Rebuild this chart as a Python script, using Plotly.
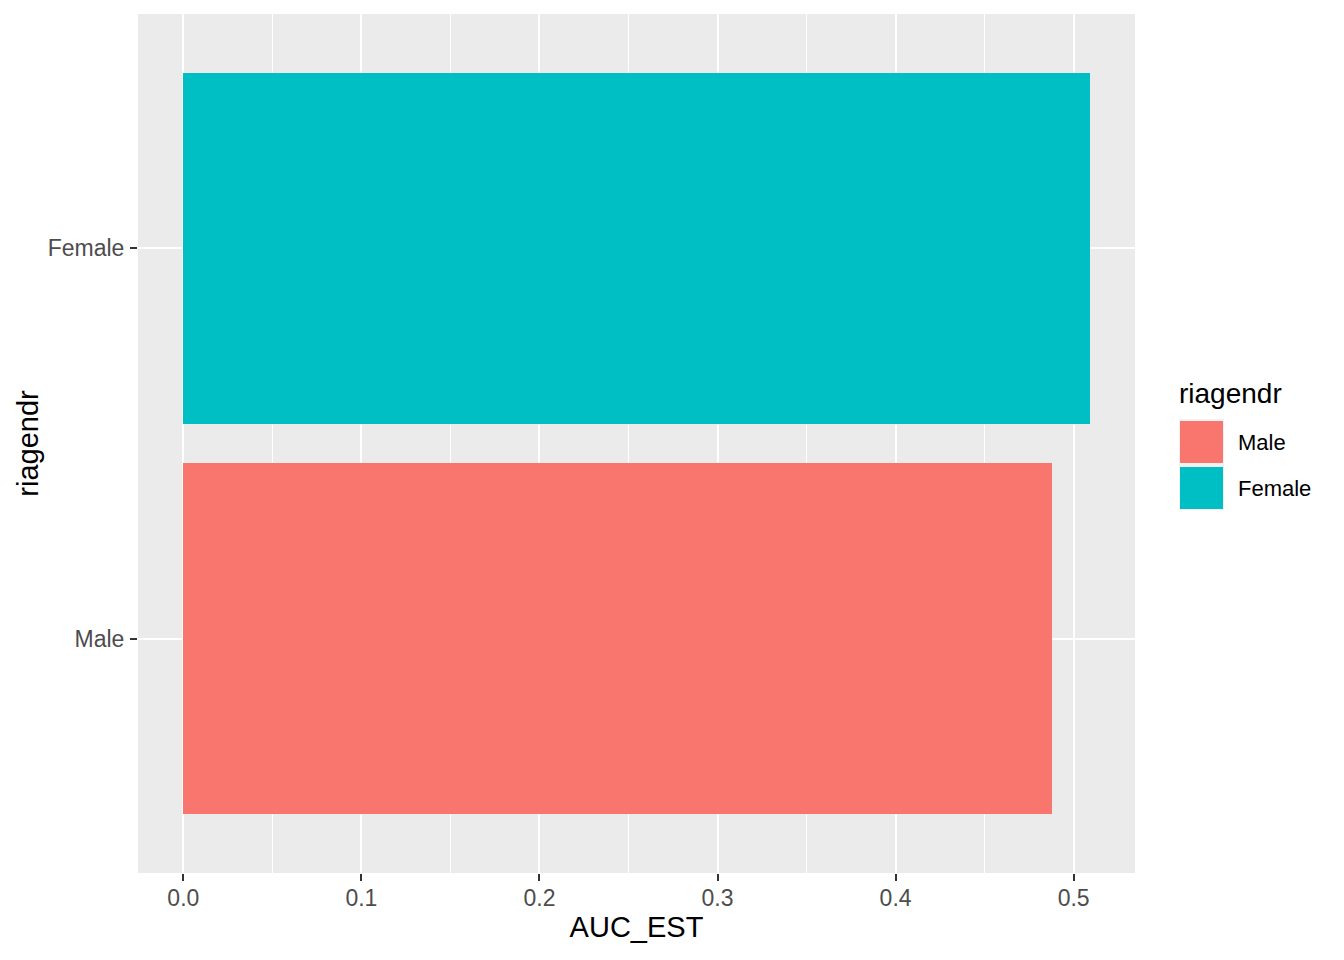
import plotly.graph_objects as go

# Data
categories = ["Male", "Female"]
auc_est = [0.4876, 0.5090]
colors = ["#F8766D", "#00BFC4"]
x_ticks = [0.0, 0.1, 0.2, 0.3, 0.4, 0.5]
x_tick_labels = ["0.0", "0.1", "0.2", "0.3", "0.4", "0.5"]

W, H = 1344, 960
L, R, T, B = 138, 209, 14, 87
pw, ph = W - L - R, H - T - B

def px_x(x):
    return (x - L) / pw

def px_y(y):
    return (H - B - y) / ph

fig = go.Figure()
for cat, val, col in zip(categories, auc_est, colors):
    fig.add_trace(go.Bar(
        x=[val], y=[cat], orientation="h", width=0.9,
        marker=dict(color=col, line=dict(width=0)),
        name=cat, showlegend=False,
    ))

xmax = max(auc_est)
pad = 0.05 * xmax

fig.update_layout(
    width=W, height=H,
    margin=dict(l=L, r=R, t=T, b=B, autoexpand=False),
    paper_bgcolor="white",
    plot_bgcolor="#EBEBEB",
    font=dict(family="Liberation Sans, Arial, sans-serif"),
    bargap=0,
    xaxis=dict(
        range=[-pad, xmax + pad],
        tickvals=x_ticks, ticktext=x_tick_labels,
        showgrid=True, gridcolor="white", gridwidth=2,
        minor=dict(tickvals=[0.05, 0.15, 0.25, 0.35, 0.45], showgrid=True,
                   gridcolor="white", gridwidth=1, ticks=""),
        ticks="outside", ticklen=7, tickwidth=2, tickcolor="#333333",
        tickfont=dict(size=23, color="#4D4D4D"),
        ticklabelstandoff=-3,
        zeroline=False, showline=False,
        title=dict(text="AUC_EST", font=dict(size=29, color="black"), standoff=7),
        fixedrange=True,
    ),
    yaxis=dict(
        type="category", categoryorder="array", categoryarray=categories,
        range=[-0.6, 1.6],
        showgrid=True, gridcolor="white", gridwidth=2,
        ticks="outside", ticklen=7, tickwidth=2, tickcolor="#333333",
        tickfont=dict(size=23, color="#4D4D4D"),
        ticklabelstandoff=1,
        zeroline=False, showline=False,
        title=dict(text="riagendr", font=dict(size=29, color="black"), standoff=0),
        fixedrange=True,
    ),
)

# Legend (drawn manually, ggplot style)
shapes = []
annotations = []
shapes.append(dict(type="rect", xref="paper", yref="paper",
                   x0=px_x(1179), x1=px_x(1224), y0=px_y(510), y1=px_y(419),
                   fillcolor="#F2F2F2", line=dict(width=0), layer="above"))
key_rows = [(421, 463), (467, 509)]
for (y0, y1), cat, col in zip(key_rows, categories, colors):
    shapes.append(dict(type="rect", xref="paper", yref="paper",
                       x0=px_x(1180), x1=px_x(1223), y0=px_y(y1), y1=px_y(y0),
                       fillcolor=col, line=dict(width=0), layer="above"))
    annotations.append(dict(xref="paper", yref="paper", x=px_x(1236), y=px_y((y0 + y1) / 2),
                            text=cat, showarrow=False, xanchor="left", yanchor="middle",
                            font=dict(size=22, color="black")))
annotations.append(dict(xref="paper", yref="paper", x=px_x(1177), y=px_y(393),
                        text="riagendr", showarrow=False, xanchor="left", yanchor="middle",
                        font=dict(size=28, color="black")))
fig.update_layout(shapes=shapes, annotations=annotations)

fig.write_html("out.html", config={"displayModeBar": False},
               post_script="document.body.style.margin='0';document.body.style.padding='0';")
